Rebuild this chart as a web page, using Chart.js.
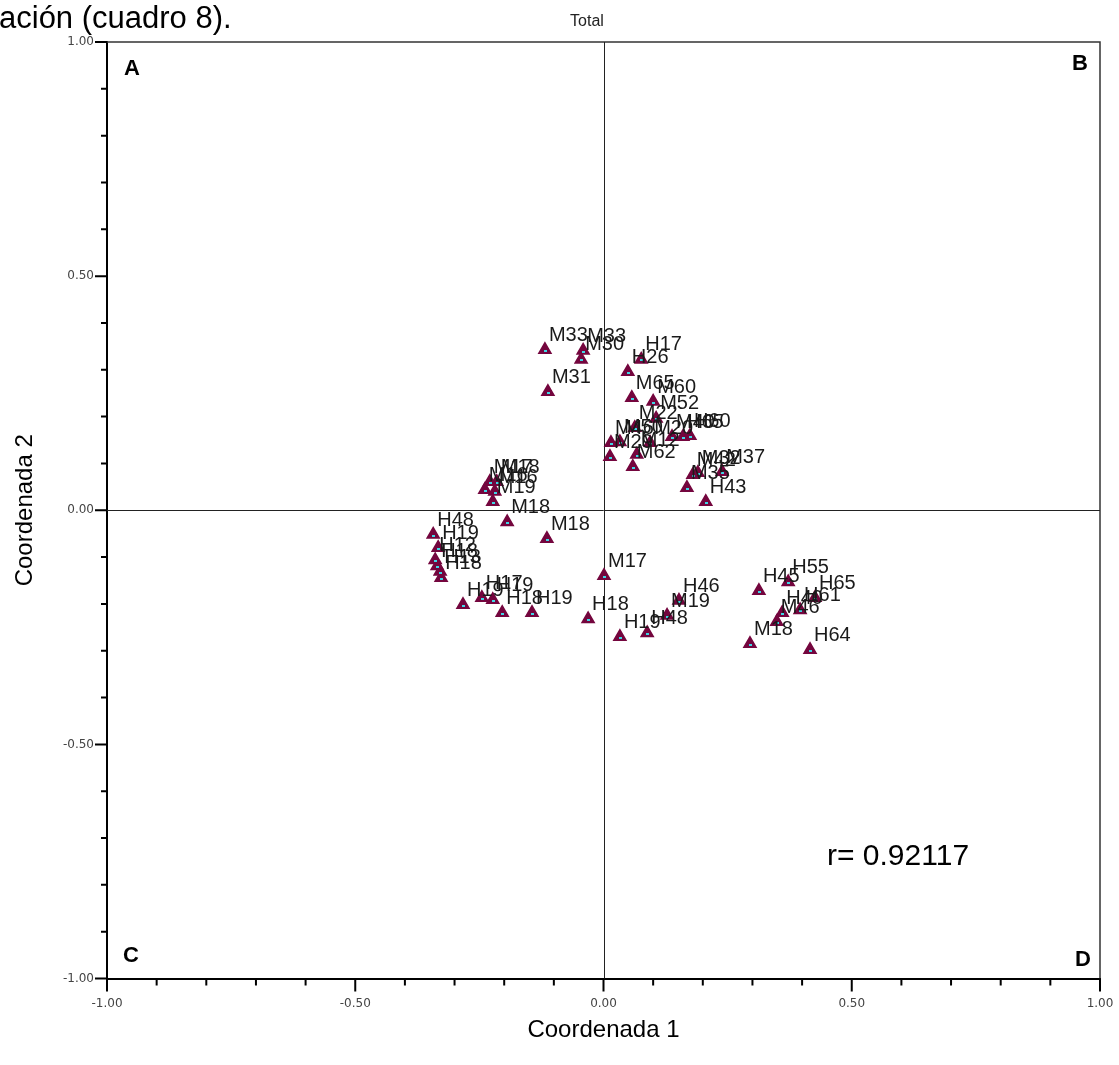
<!DOCTYPE html>
<html>
<head>
<meta charset="utf-8">
<script src="https://cdn.jsdelivr.net/npm/chart.js@4.4.0/dist/chart.umd.min.js"></script>
<style>
html, body { margin: 0; padding: 0; background: #fff; }
#wrap { position: relative; width: 1119px; height: 1065px; }
</style>
</head>
<body>
<div id="wrap"><canvas id="chart"></canvas></div>
<script>
// point labels and coordinates
var labels = [
  'M33','M33','M30','M31','M17','M18','M16','M16','M19',
  'M18','M18','H48','H19','H12','H18','H13','H18','H19','H17','H19','H18','H19','H18',
  'M17','H19','H48','M19','H46','H45','H55','H65','H61','H40','M46','M18','H64',
  'H17','H26','M65','M60','M52','M22','M46','M50','M20','M40','H65','H60','M29','M12','M62','M42','M32','M37','M35','H43'
];
var coordX = [
  -0.118,-0.041,-0.045,-0.112,-0.229,-0.215,-0.239,-0.219,-0.223,
  -0.194,-0.114,-0.343,-0.333,-0.339,-0.335,-0.329,-0.327,-0.283,-0.245,-0.223,-0.204,-0.144,-0.031,
  0.001,0.033,0.088,0.128,0.152,0.313,0.372,0.426,0.396,0.360,0.349,0.295,0.416,
  0.076,0.049,0.057,0.100,0.106,0.063,0.015,0.033,0.094,0.138,0.160,0.174,0.013,0.067,0.059,0.180,0.190,0.239,0.168,0.206
];
var coordY = [
  0.343,0.341,0.322,0.253,0.061,0.061,0.044,0.040,0.018,
  -0.025,-0.061,-0.052,-0.080,-0.106,-0.119,-0.131,-0.144,-0.202,-0.187,-0.191,-0.219,-0.219,-0.232,
  -0.140,-0.270,-0.262,-0.225,-0.193,-0.172,-0.153,-0.187,-0.213,-0.219,-0.238,-0.285,-0.298,
  0.322,0.296,0.240,0.232,0.196,0.176,0.144,0.146,0.144,0.157,0.157,0.159,0.114,0.119,0.093,0.076,0.080,0.082,0.048,0.018
];
var quadrants = ['A', 'B', 'C', 'D'];
var corrText = 'r= 0.92117';

var points = coordX.map(function (x, i) { return {x: x, y: coordY[i]}; });

function tickLabel(value) {
  var k = Math.round(value * 10);
  if (k % 5 !== 0) return '';
  return (k / 10).toFixed(2);
}

var decor = {
  id: 'decor',
  beforeDatasetsDraw: function (chart) {
    var c = chart.ctx, a = chart.chartArea;
    var sx = chart.scales.x, sy = chart.scales.y;
    c.save();
    // top and right frame
    c.strokeStyle = '#333';
    c.lineWidth = 1.5;
    c.beginPath();
    c.moveTo(a.left, a.top); c.lineTo(a.right, a.top); c.lineTo(a.right, a.bottom);
    c.stroke();
    // zero lines
    c.strokeStyle = '#222';
    c.lineWidth = 1;
    var x0 = Math.round(sx.getPixelForValue(0)) + 0.5;
    var y0 = Math.round(sy.getPixelForValue(0)) + 0.5;
    c.beginPath();
    c.moveTo(x0, a.top); c.lineTo(x0, a.bottom);
    c.moveTo(a.left, y0); c.lineTo(a.right, y0);
    c.stroke();
    // tick marks
    c.strokeStyle = '#000';
    c.lineWidth = 2;
    c.beginPath();
    sx.ticks.forEach(function (t) {
      var p = sx.getPixelForValue(t.value);
      var len = Math.round(t.value * 10) % 5 === 0 ? 13 : 7;
      c.moveTo(p, a.bottom); c.lineTo(p, a.bottom + len);
    });
    sy.ticks.forEach(function (t) {
      var p = sy.getPixelForValue(t.value);
      var len = Math.round(t.value * 10) % 5 === 0 ? 12 : 6;
      c.moveTo(a.left, p); c.lineTo(a.left - len, p);
    });
    c.stroke();
    c.restore();
  },
  afterDatasetsDraw: function (chart) {
    var c = chart.ctx, a = chart.chartArea;
    var meta = chart.getDatasetMeta(0);
    c.save();
    // cyan centre of each marker
    c.fillStyle = '#3fd6e6';
    meta.data.forEach(function (el) {
      c.fillRect(Math.round(el.x) - 1, Math.round(el.y), 3, 2);
    });
    // point labels
    c.fillStyle = '#1a1a1a';
    c.font = '20px "Liberation Sans", Arial, sans-serif';
    c.textAlign = 'left';
    c.textBaseline = 'alphabetic';
    meta.data.forEach(function (el, i) {
      c.fillText(labels[i], el.x + 4, el.y - 9);
    });
    // quadrant letters
    c.font = 'bold 22px "Liberation Sans", Arial, sans-serif';
    c.fillStyle = '#000';
    c.fillText(quadrants[0], a.left + 17, a.top + 33);
    c.fillText(quadrants[2], a.left + 16, a.bottom - 17);
    c.textAlign = 'right';
    c.fillText(quadrants[1], a.right - 12, a.top + 28);
    c.fillText(quadrants[3], a.right - 9, a.bottom - 13);
    // correlation
    c.textAlign = 'left';
    c.font = '30px "Liberation Sans", Arial, sans-serif';
    c.fillText(corrText, 827, 865);
    // title and cropped caption
    c.textAlign = 'center';
    c.font = '16px "Liberation Sans", Arial, sans-serif';
    c.fillStyle = '#222';
    c.fillText('Total', 587, 26);
    c.textAlign = 'left';
    c.font = '31px "Liberation Sans", Arial, sans-serif';
    c.fillStyle = '#000';
    c.fillText('ación (cuadro 8).', -1, 28);
    c.restore();
  }
};

new Chart(document.getElementById('chart'), {
  type: 'scatter',
  data: {
    datasets: [{
      label: 'Total',
      data: points,
      pointStyle: 'triangle',
      radius: 6.5,
      backgroundColor: '#74063e',
      borderColor: '#74063e',
      borderWidth: 2
    }]
  },
  options: {
    responsive: true, maintainAspectRatio: false, animation: false,
    layout: {padding: {top: 42, right: 19, left: 0, bottom: 0}},
    plugins: {legend: {display: false}, tooltip: {enabled: false}, title: {display: false}},
    scales: {
      x: {
        type: 'linear', min: -1, max: 1,
        afterFit: function (s) { s.height = 86.5; s.paddingLeft = 0; s.paddingRight = 0; },
        grid: {display: false, drawTicks: false},
        border: {display: true, color: '#000', width: 2},
        ticks: {stepSize: 0.1, autoSkip: false, maxRotation: 0, padding: 18,
          font: {family: 'DejaVu Sans', size: 12}, color: '#444', callback: tickLabel},
        title: {display: true, text: 'Coordenada 1', color: '#000',
          font: {family: 'Liberation Sans', size: 24}, padding: {top: 0, bottom: 20}}
      },
      y: {
        type: 'linear', min: -1, max: 1,
        afterFit: function (s) { s.width = 107; s.paddingTop = 0; s.paddingBottom = 0; },
        grid: {display: false, drawTicks: false},
        border: {display: true, color: '#000', width: 2},
        ticks: {stepSize: 0.1, autoSkip: false, padding: 13,
          font: {family: 'DejaVu Sans', size: 12}, color: '#444', callback: tickLabel},
        title: {display: true, text: 'Coordenada 2', color: '#000',
          font: {family: 'Liberation Sans', size: 24}, padding: {top: 11, bottom: 0}}
      }
    }
  },
  plugins: [decor]
});
</script>
</body>
</html>
